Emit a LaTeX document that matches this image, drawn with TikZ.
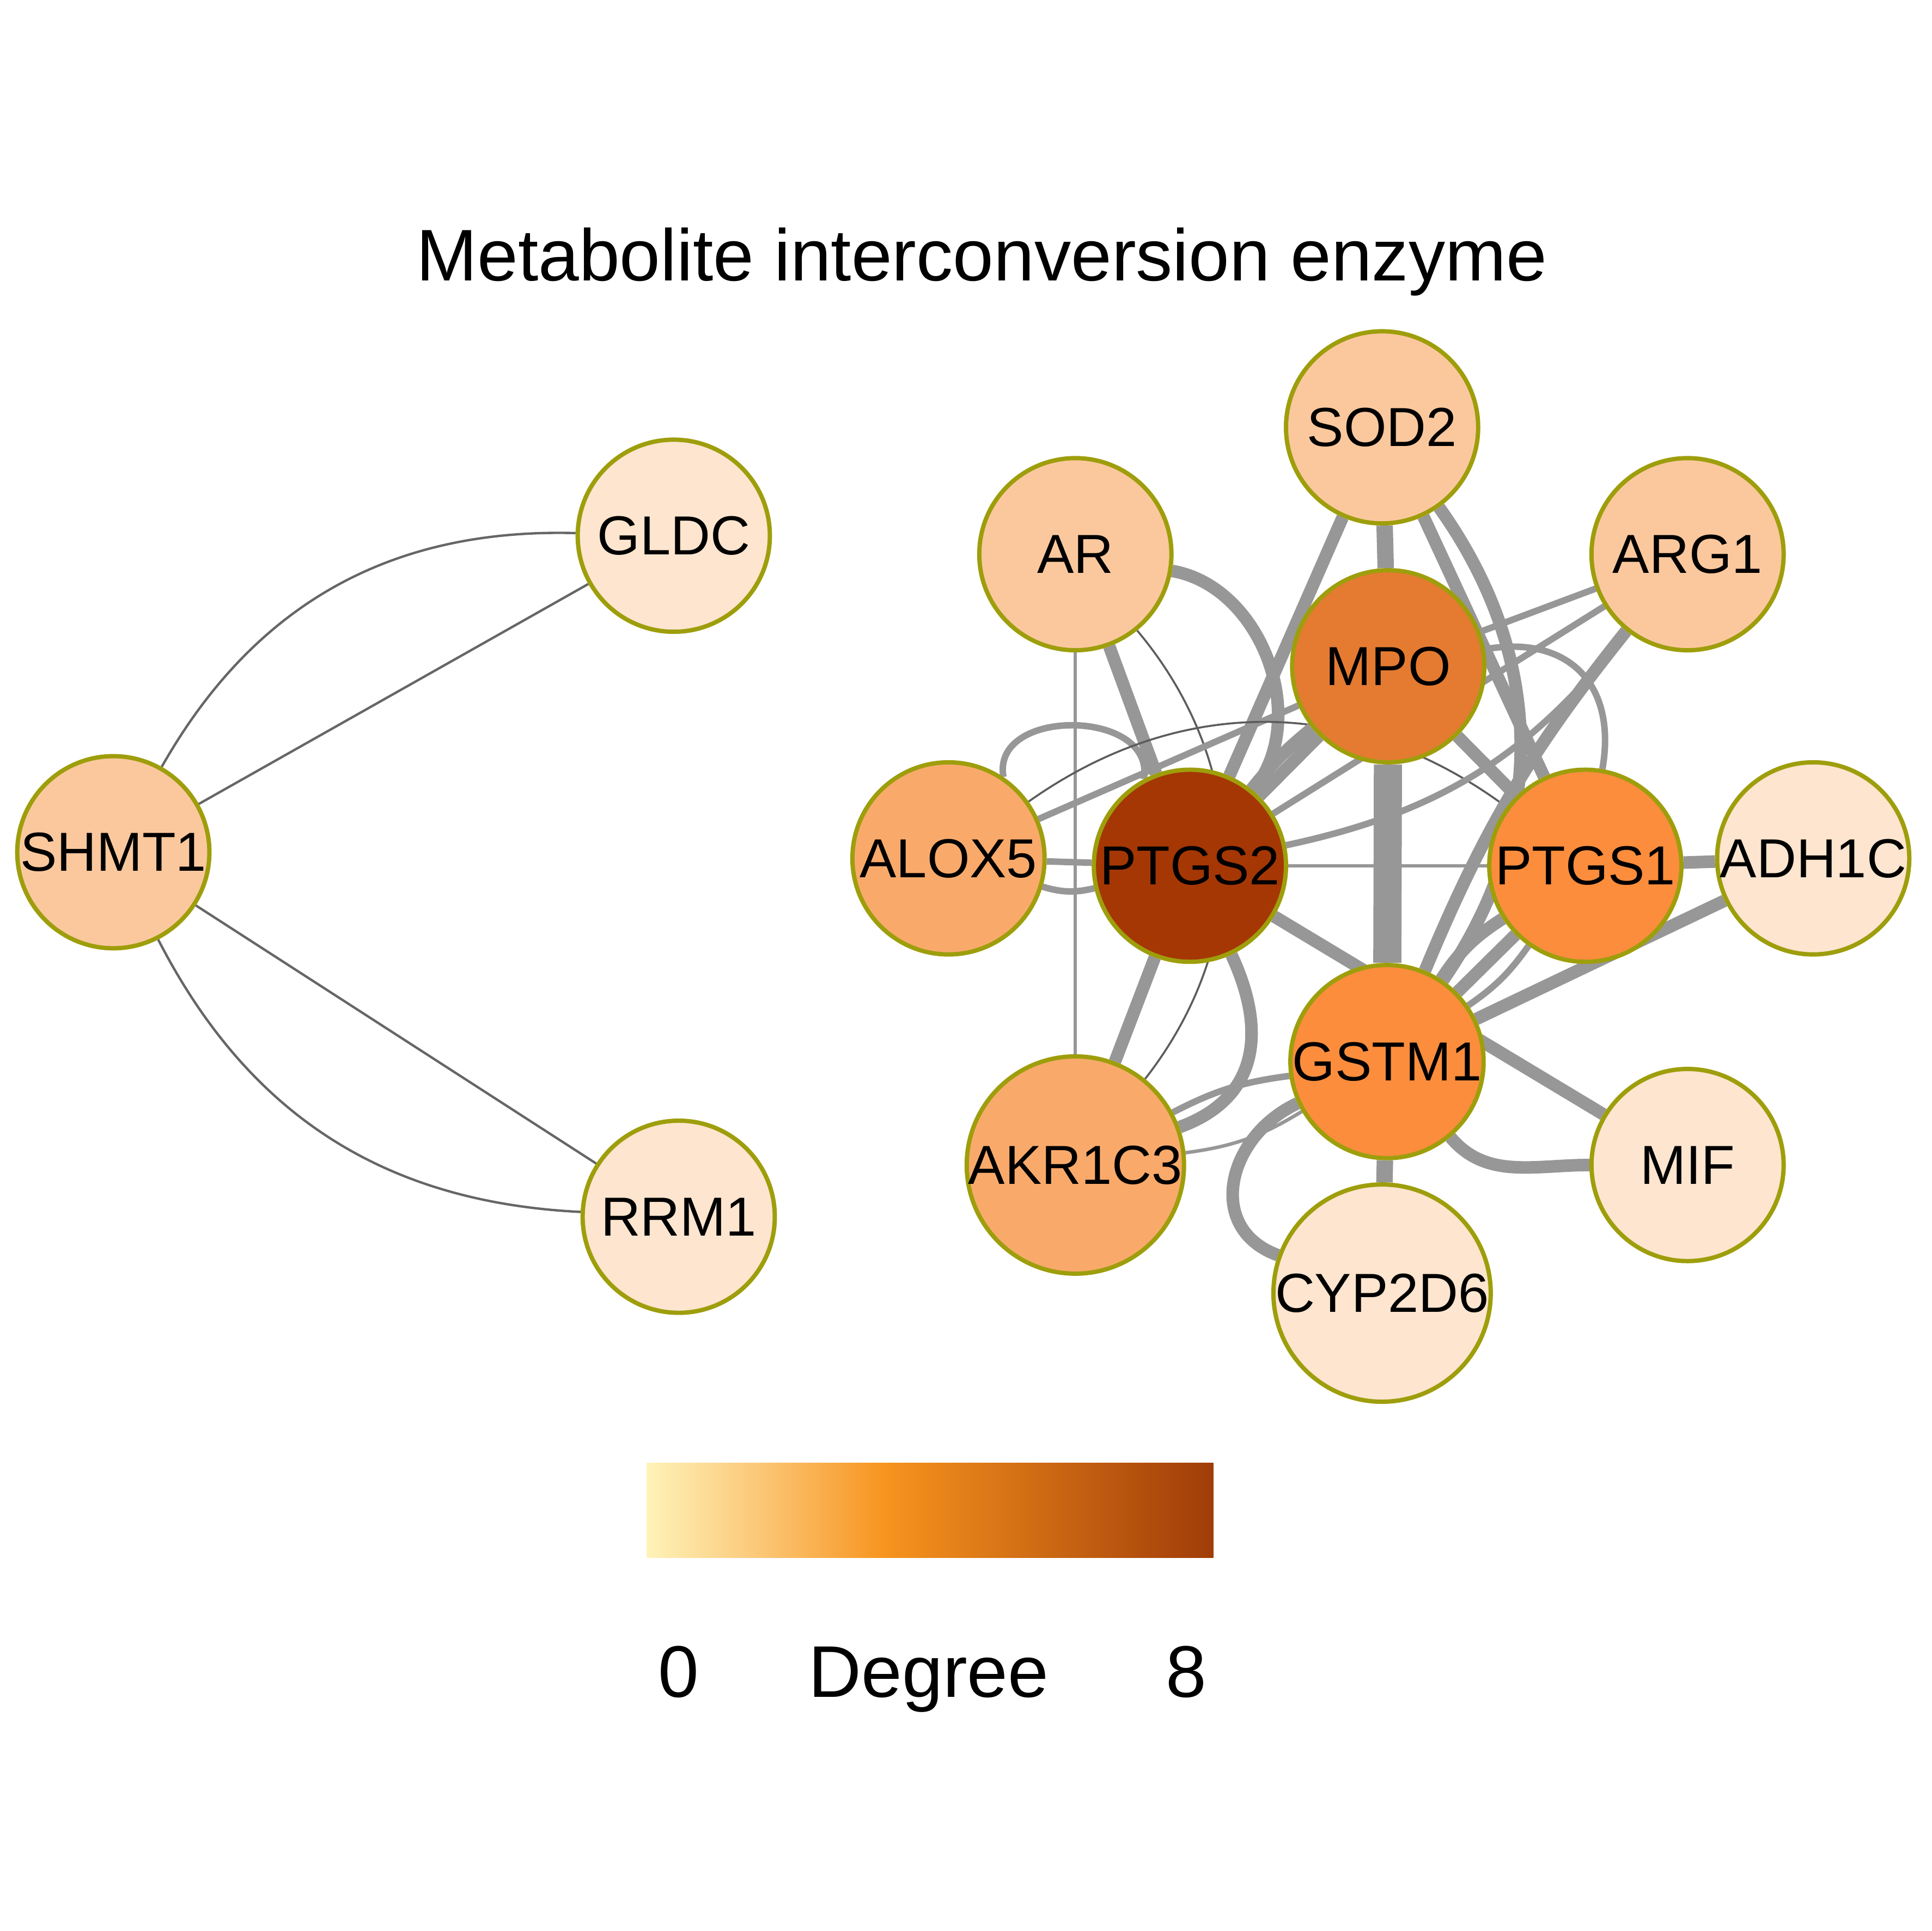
\documentclass[tikz,border=0pt]{standalone}
\usepackage{fontspec}
\setmainfont{Liberation Sans}
\usetikzlibrary{positioning}

\definecolor{rimolive}{HTML}{9E9E0C}
\definecolor{pale}{HTML}{FDE5CF}
\definecolor{peach}{HTML}{FBC89E}
\definecolor{apricot}{HTML}{F9AA6B}
\definecolor{tangerine}{HTML}{FB8D3C}
\definecolor{burnt}{HTML}{E47B31}
\definecolor{rust}{HTML}{A53704}
\definecolor{linkgray}{HTML}{979797}
\definecolor{hairgray}{HTML}{5C5C5C}
\definecolor{leftgray}{HTML}{666666}
\definecolor{barlo}{HTML}{FEF3B9}
\definecolor{barsoft}{HTML}{FBC777}
\definecolor{barmid}{HTML}{F7941E}
\definecolor{barhi}{HTML}{A03C08}

\pgfdeclarehorizontalshading{degreebar}{100bp}{color(0bp)=(barlo); color(25bp)=(barlo); color(35bp)=(barsoft); color(46bp)=(barmid); color(75bp)=(barhi); color(100bp)=(barhi)}
\pgfdeclarelayer{paper}
\pgfdeclarelayer{links}
\pgfsetlayers{paper,links,main}

\newcommand{\genefont}{\fontsize{12.7}{15}\selectfont}
\newcommand{\bigfont}{\fontsize{16.9}{20}\selectfont}

\begin{document}
\begin{tikzpicture}[x=0.1mm, y=0.1mm,
	gene/.style={shape=circle, draw=rimolive, line width=1pt, minimum size=1.56cm, inner sep=0pt, font=\genefont},
	massivelink/.style={draw=linkgray, line width=6.5pt},
	trunklink/.style={draw=linkgray, line width=3.8pt},
	heavylink/.style={draw=linkgray, line width=2.9pt},
	midlink/.style={draw=linkgray, line width=1.5pt},
	finelink/.style={draw=linkgray, line width=0.8pt},
	hairlink/.style={draw=hairgray, line width=0.45pt},
	leftlink/.style={draw=leftgray, line width=0.55pt}]
	
	\begin{pgfonlayer}{paper}
	\fill[white] (0,0) rectangle (1568,-1568);
	\end{pgfonlayer}
	\useasboundingbox (0,0) rectangle (1568,-1568);
	
	\node[font=\bigfont, anchor=base] (title) at (797,-228) {Metabolite interconversion enzyme};
	
	% left component
	\node[gene, fill=pale] (gldc) at (547,-435) {GLDC};
	\node[gene, fill=peach] (shmt1) at (92,-692) {SHMT1};
	\node[gene, fill=pale] (rrm1) at (551,-988) {RRM1};
	
	% right component
	\node[gene, fill=peach] (sod2) at (1122,-347) {SOD2};
	\node[gene, fill=peach] (ar) at (873,-450) {AR};
	\node[gene, fill=peach] (arg1) at (1370,-450) {ARG1};
	\node[gene, fill=burnt] (mpo) at (1127,-541) {MPO};
	\node[gene, fill=apricot] (alox5) at (770,-697) {ALOX5};
	\node[gene, fill=rust] (ptgs2) at (966,-703) {PTGS2};
	\node[gene, fill=tangerine] (ptgs1) at (1287,-703) {PTGS1};
	\node[gene, fill=pale] (adh1c) at (1472,-697) {ADH1C};
	\node[gene, fill=tangerine] (gstm1) at (1126,-862) {GSTM1};
	\node[gene, fill=apricot] (akr1c3) at (873,-946) {AKR1C3};
	\node[gene, fill=pale] (mif) at (1370,-946) {MIF};
	\node[gene, fill=pale] (cyp2d6) at (1122,-1050) {CYP2D6};
	
	\begin{pgfonlayer}{links}
	\path[leftlink] (shmt1) edge[bend left=31] (gldc);
	\path[leftlink] (shmt1) edge (gldc);
	\path[leftlink] (shmt1) edge (rrm1);
	\path[leftlink] (shmt1) edge[bend right=30] (rrm1);
	
	\path[trunklink] (sod2) edge (mpo);
	\path[heavylink] (sod2) edge (ptgs2);
	\path[heavylink] (sod2) edge (ptgs1);
	\path[heavylink] (sod2) edge[bend left=35] (gstm1);
	\path[heavylink] (ar) edge (ptgs2);
	\path[heavylink] (ar) edge[bend left=60] (ptgs2);
	\path[finelink] (ar) edge (akr1c3);
	\path[hairlink] (ar) edge[bend left=39] (akr1c3);
	\path[midlink] (alox5.56) edge[out=100, in=80, looseness=1.3] (ptgs2.118);
	\path[midlink] (alox5) edge (ptgs2);
	\path[midlink] (alox5) edge[bend right=15] (ptgs2);
	\path[midlink] (alox5) edge (mpo);
	\path[hairlink] (alox5) edge[bend left=36] (ptgs1);
	\path[heavylink] (mpo) edge (ptgs2);
	\path[heavylink] (mpo) edge[bend right=6] (ptgs2);
	\path[heavylink] (mpo) edge (ptgs1);
	\path[midlink] (mpo) edge[out=10, in=80, looseness=1.3] (ptgs1);
	\path[massivelink] (mpo) edge (gstm1);
	\path[midlink] (mpo) edge (arg1);
	\path[midlink] (ptgs2) edge (arg1);
	\path[midlink] (ptgs2) edge[bend right=20] (arg1);
	\path[heavylink] (arg1) edge[bend right=8] (gstm1);
	\path[finelink] (ptgs2) edge (ptgs1);
	\path[heavylink] (ptgs2) edge (mif);
	\path[heavylink] (ptgs2) edge (akr1c3);
	\path[heavylink] (ptgs2) edge[out=-65, in=20, looseness=1.2] (akr1c3);
	\path[heavylink] (ptgs1) edge (adh1c);
	\path[heavylink] (ptgs1) edge (gstm1);
	\path[heavylink] (ptgs1) edge[bend right=12] (gstm1);
	\path[midlink] (ptgs1) edge[bend left=10] (gstm1);
	\path[heavylink] (gstm1) edge (adh1c);
	\path[heavylink] (gstm1) edge[out=-50, in=180] (mif);
	\path[trunklink] (gstm1) edge (cyp2d6);
	\path[heavylink] (gstm1) edge[out=205, in=160, looseness=1.3] (cyp2d6);
	\path[midlink] (gstm1) edge[bend right=10] (akr1c3);
	\path[finelink] (gstm1) edge[bend left=12] (akr1c3);
	\end{pgfonlayer}
	
	% colour key
	\shade[shading=degreebar] (525,-1188) rectangle (985,-1265);
	\node[font=\bigfont, anchor=base] (low) at (551,-1378) {0};
	\node[font=\bigfont, anchor=base] (degree) at (754,-1378) {Degree};
	\node[font=\bigfont, anchor=base] (high) at (963,-1378) {8};
	
\end{tikzpicture}
\end{document}
